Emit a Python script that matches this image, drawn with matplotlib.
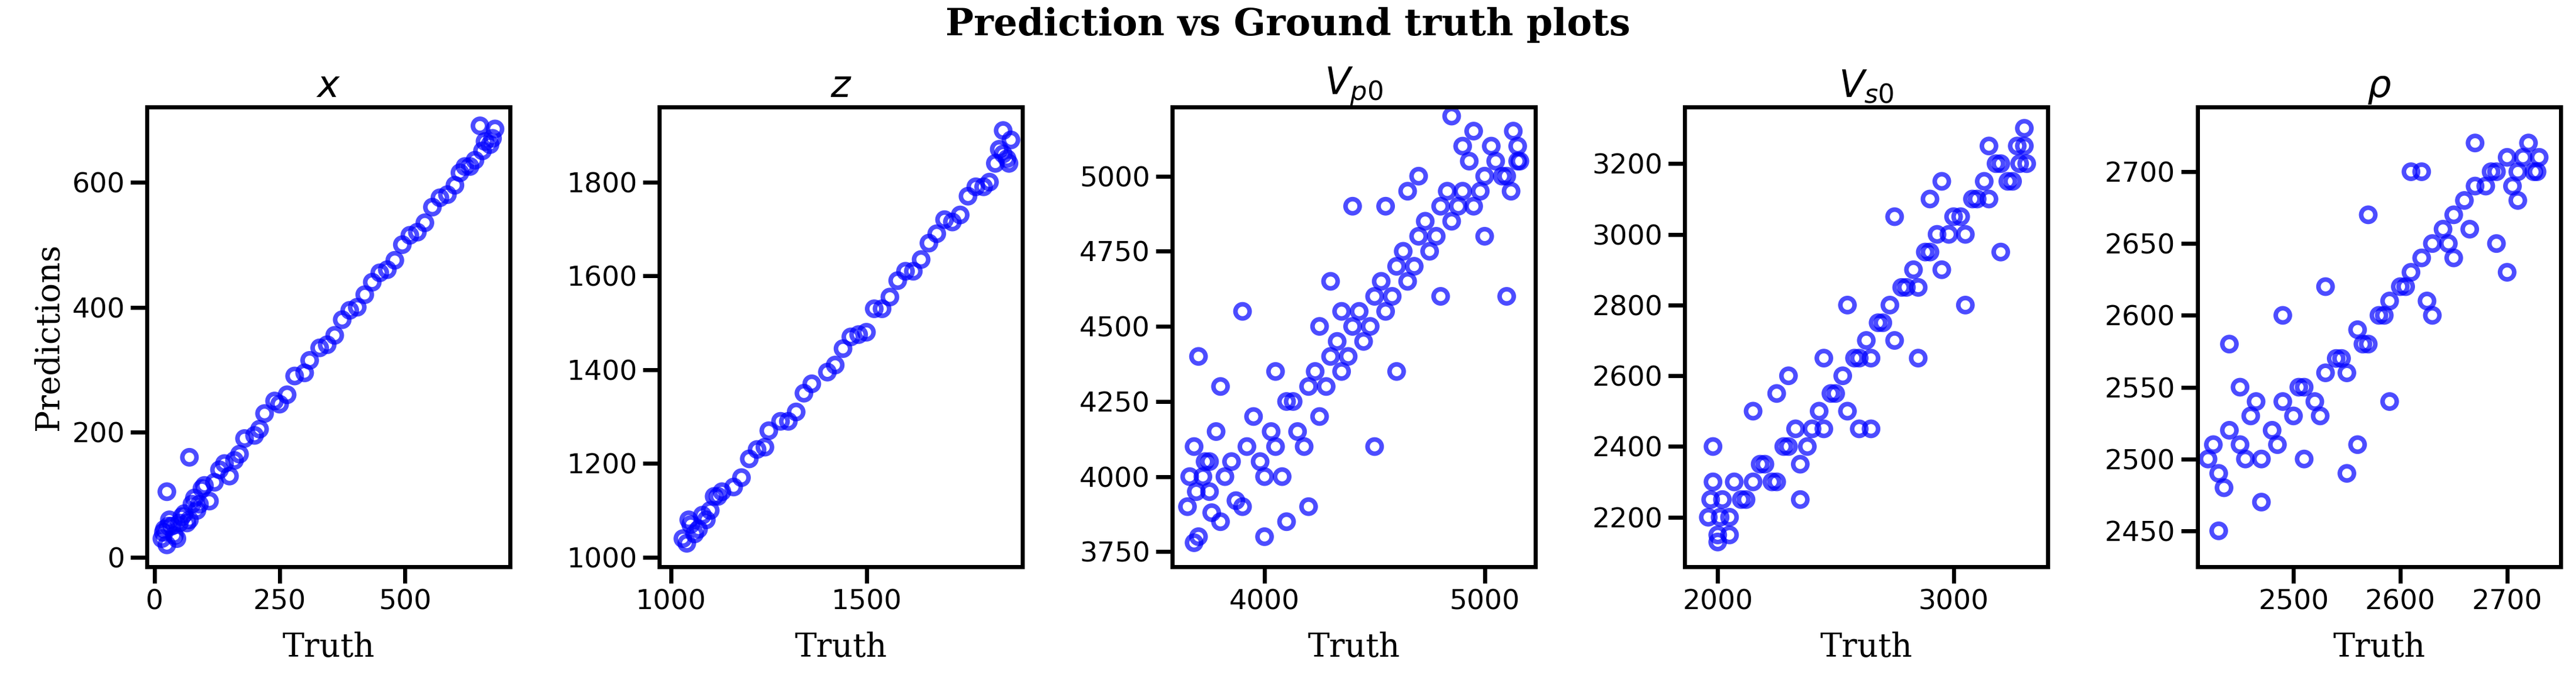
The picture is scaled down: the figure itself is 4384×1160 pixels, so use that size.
import matplotlib
matplotlib.use("Agg")
import matplotlib.pyplot as plt

titles = [r"$x$", r"$z$", r"$V_{p0}$", r"$V_{s0}$", r"$\rho$"]

x_truth = [15, 20, 25, 30, 40, 50, 60, 70, 80, 90, 100, 120, 140, 160, 180, 200, 220, 250, 280, 300, 330, 360, 390, 420, 450, 480, 510, 540, 570, 600, 620, 640, 660, 670, 680, 25, 70, 110, 150, 650,
           35, 45, 55, 65, 85, 95, 130, 170, 210, 240, 265, 310, 345, 375, 405, 435, 465, 495, 525, 555, 585, 610, 630, 655, 675, 18, 28, 75]
x_pred = [30, 45, 20, 60, 35, 55, 70, 60, 95, 85, 115, 120, 150, 155, 190, 195, 230, 245, 290, 295, 335, 355, 395, 420, 455, 475, 515, 535, 575, 595, 625, 635, 665, 660, 685, 105, 160, 90, 130, 690,
          50, 30, 65, 55, 75, 110, 140, 165, 205, 250, 260, 315, 340, 380, 400, 440, 460, 500, 520, 560, 580, 615, 625, 650, 670, 40, 50, 85]

z_truth = [1030, 1040, 1050, 1060, 1080, 1100, 1130, 1160, 1200, 1240, 1280, 1320, 1360, 1400, 1440, 1480, 1520, 1560, 1600, 1640, 1680, 1720, 1760, 1800, 1830, 1850, 1860, 1870, 1045, 1110, 1250, 1500, 1700, 1850,
           1070, 1090, 1120, 1180, 1220, 1300, 1340, 1420, 1460, 1540, 1580, 1620, 1660, 1740, 1780, 1815, 1840, 1865]
z_pred = [1040, 1030, 1070, 1050, 1090, 1100, 1140, 1150, 1210, 1235, 1290, 1310, 1370, 1395, 1445, 1475, 1530, 1555, 1610, 1635, 1690, 1715, 1770, 1790, 1840, 1860, 1850, 1890, 1080, 1130, 1270, 1480, 1720, 1910,
          1060, 1080, 1130, 1170, 1230, 1290, 1350, 1410, 1470, 1530, 1590, 1610, 1670, 1730, 1790, 1800, 1870, 1840]

vp_truth = [3650, 3680, 3700, 3720, 3750, 3780, 3800, 3850, 3900, 3950, 4000, 4050, 4100, 4150, 4200, 4250, 4300, 4350, 4400, 4450, 4500, 4550, 4600, 4650, 4700, 4750, 4800, 4850, 4900, 4950, 5000, 5050, 5100, 5150, 3700, 3800, 3900, 4000, 4100, 4200, 4300, 4400, 4500, 4600, 4700, 4800, 4900, 5000, 5100, 3750, 4050, 4350, 4650, 4950, 5150, 3680, 4250, 4550, 4850, 5120,
            3660, 3690, 3730, 3760, 3820, 3870, 3920, 3980, 4030, 4080, 4130, 4180, 4230, 4280, 4330, 4380, 4430, 4480, 4530, 4580, 4630, 4680, 4730, 4780, 4830, 4880, 4930, 4980, 5030, 5080, 5130, 5160]
vp_pred = [3900, 4100, 3800, 4000, 3950, 4150, 3850, 4050, 3900, 4200, 4000, 4100, 4250, 4150, 4300, 4200, 4400, 4350, 4500, 4450, 4600, 4550, 4700, 4650, 4800, 4750, 4900, 4850, 4950, 4900, 5000, 5050, 5000, 5100, 4400, 4300, 4550, 3800, 3850, 3900, 4650, 4900, 4100, 4350, 5000, 4600, 5100, 4800, 4600, 4050, 4350, 4550, 4950, 5150, 5050, 3780, 4500, 4900, 5200, 4950,
           4000, 3950, 4050, 3880, 4000, 3920, 4100, 4050, 4150, 4000, 4250, 4100, 4350, 4300, 4450, 4400, 4550, 4500, 4650, 4600, 4750, 4700, 4850, 4800, 4950, 4900, 5050, 4950, 5100, 5000, 5150, 5050]

vs_truth = [1960, 1980, 2000, 2020, 2050, 2100, 2150, 2200, 2250, 2300, 2350, 2400, 2450, 2500, 2550, 2600, 2650, 2700, 2750, 2800, 2850, 2900, 2950, 3000, 3050, 3100, 3150, 3200, 3250, 3300, 1980, 2050, 2150, 2250, 2350, 2450, 2550, 2650, 2750, 2850, 2950, 3050, 3150, 3280, 2000, 2300, 2600, 2900, 3200, 3300,
            1970, 2010, 2070, 2120, 2180, 2230, 2280, 2330, 2380, 2430, 2480, 2530, 2580, 2630, 2680, 2730, 2780, 2830, 2880, 2930, 2980, 3030, 3080, 3130, 3180, 3230, 3270, 3310]
vs_pred = [2200, 2300, 2150, 2250, 2200, 2250, 2300, 2350, 2300, 2400, 2350, 2450, 2450, 2550, 2500, 2650, 2650, 2750, 2700, 2850, 2850, 2950, 2900, 3050, 3000, 3100, 3100, 3200, 3150, 3250, 2400, 2150, 2500, 2550, 2250, 2650, 2800, 2450, 3050, 2650, 3150, 2800, 3250, 3200, 2130, 2600, 2450, 3100, 2950, 3300,
           2250, 2200, 2300, 2250, 2350, 2300, 2400, 2450, 2400, 2500, 2550, 2600, 2650, 2700, 2750, 2800, 2850, 2900, 2950, 3000, 3000, 3050, 3100, 3150, 3200, 3150, 3250, 3200]

rho_truth = [2420, 2430, 2440, 2450, 2460, 2470, 2480, 2490, 2500, 2510, 2520, 2530, 2540, 2550, 2560, 2570, 2580, 2590, 2600, 2610, 2620, 2630, 2640, 2650, 2660, 2670, 2680, 2690, 2700, 2710, 2720, 2730, 2430, 2450, 2470, 2490, 2510, 2530, 2550, 2570, 2590, 2610, 2630, 2650, 2670, 2690, 2710, 2725, 2440, 2560, 2620, 2700,
             2425, 2435, 2455, 2465, 2485, 2505, 2525, 2545, 2565, 2585, 2605, 2625, 2645, 2665, 2685, 2705, 2715, 2728]
rho_pred = [2500, 2490, 2520, 2510, 2530, 2500, 2520, 2540, 2530, 2550, 2540, 2560, 2570, 2560, 2590, 2580, 2600, 2610, 2620, 2630, 2640, 2650, 2660, 2670, 2680, 2690, 2690, 2700, 2710, 2700, 2720, 2710, 2450, 2550, 2470, 2600, 2500, 2620, 2490, 2670, 2540, 2700, 2600, 2640, 2720, 2650, 2680, 2700, 2580, 2510, 2700, 2630,
            2510, 2480, 2500, 2540, 2510, 2550, 2530, 2570, 2580, 2600, 2620, 2610, 2650, 2660, 2700, 2690, 2710, 2700]

truths = [x_truth, z_truth, vp_truth, vs_truth, rho_truth]
preds = [x_pred, z_pred, vp_pred, vs_pred, rho_pred]
xticks = [[0, 250, 500], [1000, 1500], [4000, 5000], [2000, 3000], [2500, 2600, 2700]]
yticks = [[0, 200, 400, 600], [1000, 1200, 1400, 1600, 1800], [3750, 4000, 4250, 4500, 4750, 5000],
          [2200, 2400, 2600, 2800, 3000, 3200], [2450, 2500, 2550, 2600, 2650, 2700]]
xlims = [(-15, 710), (970, 1900), (3580, 5230), (1860, 3400), (2410, 2750)]
ylims = [(-15, 720), (980, 1960), (3700, 5230), (2060, 3360), (2425, 2745)]

fig = plt.figure(figsize=(21.92, 5.8), dpi=200)
fig.suptitle("Prediction vs Ground truth plots", family="DejaVu Serif", fontweight="bold", fontsize=23, y=0.99)
for i in range(5):
    ax = fig.add_axes([0.057 + i * 0.199, 0.169, 0.141, 0.674])
    ax.scatter(truths[i], preds[i], s=75, facecolors="none", edgecolors="blue", linewidths=2.8, alpha=0.7)
    ax.set_title(titles[i], fontsize=23)
    ax.set_xlabel("Truth", family="DejaVu Serif", fontsize=20, labelpad=10)
    if i == 0:
        ax.set_ylabel("Predictions", family="DejaVu Serif", fontsize=20)
    ax.set_xticks(xticks[i]); ax.set_yticks(yticks[i])
    ax.set_xlim(xlims[i]); ax.set_ylim(ylims[i])
    ax.tick_params(labelsize=17, width=2.5, length=10)
    for sp in ax.spines.values():
        sp.set_linewidth(2.5)
fig.savefig("out.png", dpi=200)
